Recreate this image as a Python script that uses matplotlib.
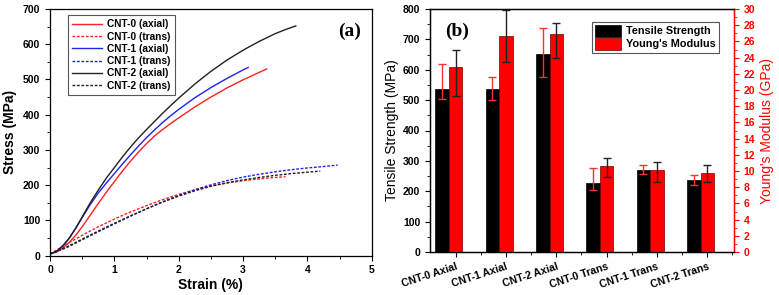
import matplotlib
matplotlib.use("Agg")
import matplotlib.pyplot as plt
import matplotlib.ticker as ticker
import numpy as np

plt.rcParams.update({
    "font.family": ["Liberation Sans", "DejaVu Sans"],
    "font.size": 7.5,
    "axes.linewidth": 0.9,
    "xtick.direction": "out",
    "ytick.direction": "out",
    "xtick.major.size": 3.5,
    "ytick.major.size": 3.5,
    "xtick.minor.size": 2,
    "ytick.minor.size": 2,
})

# ── Panel (a): stress-strain curves ──────────────────────────────────────────
cnt0_ax_strain = [0, 0.1, 0.2, 0.3, 0.4, 0.5, 0.625, 0.75, 0.875, 1.0, 1.125, 1.25,
                  1.375, 1.5, 1.625, 1.75, 1.875, 2.0, 2.25, 2.5, 2.75, 3.0, 3.25, 3.37]
cnt0_ax_stress = [5, 10, 22, 38, 58, 82, 115, 148, 180, 210, 240, 268,
                  294, 318, 340, 358, 375, 391, 422, 450, 476, 499, 520, 530]
cnt1_ax_strain = [0, 0.1, 0.2, 0.3, 0.4, 0.5, 0.625, 0.75, 0.875, 1.0, 1.125, 1.25,
                  1.375, 1.5, 1.625, 1.75, 1.875, 2.0, 2.25, 2.5, 2.75, 3.0, 3.08]
cnt1_ax_stress = [5, 12, 28, 50, 78, 108, 145, 178, 206, 233, 260, 286,
                  311, 335, 357, 378, 397, 415, 448, 477, 503, 527, 534]
cnt2_ax_strain = [0, 0.1, 0.2, 0.3, 0.4, 0.5, 0.625, 0.75, 0.875, 1.0, 1.125, 1.25,
                  1.375, 1.5, 1.625, 1.75, 1.875, 2.0, 2.25, 2.5, 2.75, 3.0, 3.25,
                  3.5, 3.65, 3.82]
cnt2_ax_stress = [5, 12, 28, 50, 78, 110, 150, 186, 220, 250, 280, 308,
                  334, 358, 381, 404, 426, 447, 487, 523, 555, 583, 608,
                  630, 641, 652]

cnt0_tr_strain = [0, 0.25, 0.5, 0.75, 1.0, 1.25, 1.5, 1.75, 2.0, 2.25, 2.5, 2.75,
                  3.0, 3.25, 3.5, 3.66]
cnt0_tr_stress = [5, 32, 58, 82, 104, 124, 142, 159, 174, 187, 198, 206,
                  213, 218, 222, 224]
cnt1_tr_strain = [0, 0.25, 0.5, 0.75, 1.0, 1.25, 1.5, 1.75, 2.0, 2.25, 2.5, 2.75,
                  3.0, 3.25, 3.5, 3.75, 4.0, 4.25, 4.47]
cnt1_tr_stress = [5, 22, 45, 68, 90, 112, 133, 153, 171, 187, 201, 213,
                  223, 231, 238, 244, 249, 253, 257]
cnt2_tr_strain = [0, 0.25, 0.5, 0.75, 1.0, 1.25, 1.5, 1.75, 2.0, 2.25, 2.5, 2.75,
                  3.0, 3.25, 3.5, 3.75, 4.0, 4.2]
cnt2_tr_stress = [5, 24, 47, 70, 92, 113, 133, 152, 169, 184, 197, 207,
                  215, 222, 228, 233, 237, 240]

# ── Panel (b): bar data ─────────────────────────────────────────────────────
samples = ["CNT-0 Axial", "CNT-1 Axial", "CNT-2 Axial",
           "CNT-0 Trans", "CNT-1 Trans", "CNT-2 Trans"]
tensile = [536, 536, 652, 227, 270, 238]
tensile_err_lo = [33, 34, 76, 24, 13, 18]
tensile_err_hi = [82, 39, 87, 48, 16, 16]
modulus = [22.9, 26.7, 26.9, 10.6, 10.1, 9.7]
modulus_err_lo = [3.7, 3.3, 2.9, 1.35, 1.5, 1.0]
modulus_err_hi = [2.0, 3.2, 1.4, 1.0, 1.0, 1.0]

W, H = 779, 295
fig = plt.figure(figsize=(W / 100, H / 100), dpi=100)

# ── Panel (a) ───────────────────────────────────────────────────────────────
ax1 = fig.add_axes([50 / W, 1 - 255.7 / H, 321.7 / W, 246.7 / H])
dash = (0, (2, 1.2))
ax1.plot(cnt0_ax_strain, cnt0_ax_stress, color="#ff2020", lw=1.0, label="CNT-0 (axial)")
ax1.plot(cnt0_tr_strain, cnt0_tr_stress, color="#ff2020", lw=1.0, ls=dash, label="CNT-0 (trans)")
ax1.plot(cnt1_ax_strain, cnt1_ax_stress, color="#2020ee", lw=1.0, label="CNT-1 (axial)")
ax1.plot(cnt1_tr_strain, cnt1_tr_stress, color="#2020ee", lw=1.0, ls=dash, label="CNT-1 (trans)")
ax1.plot(cnt2_ax_strain, cnt2_ax_stress, color="#222222", lw=1.0, label="CNT-2 (axial)")
ax1.plot(cnt2_tr_strain, cnt2_tr_stress, color="#222222", lw=1.0, ls=dash, label="CNT-2 (trans)")

ax1.set_xlim(0, 5)
ax1.set_ylim(0, 700)
ax1.xaxis.set_major_locator(ticker.MultipleLocator(1))
ax1.xaxis.set_minor_locator(ticker.MultipleLocator(0.5))
ax1.yaxis.set_major_locator(ticker.MultipleLocator(100))
ax1.yaxis.set_minor_locator(ticker.MultipleLocator(50))
for lab in ax1.get_xticklabels() + ax1.get_yticklabels():
    lab.set_fontweight("bold")
ax1.set_xlabel("Strain (%)", fontsize=10, fontweight="bold", labelpad=2)
ax1.set_ylabel("Stress (MPa)", fontsize=10, fontweight="bold", labelpad=4)
leg = ax1.legend(loc="upper left", bbox_to_anchor=(0.04, 0.995),
                 prop={"weight": "bold", "size": 7.3}, frameon=True, fancybox=False,
                 edgecolor="#555555", framealpha=1, handlelength=3.0,
                 labelspacing=0.22, borderpad=0.4, handletextpad=0.5)
leg.get_frame().set_linewidth(0.8)
ax1.text(0.93, 0.91, "(a)", transform=ax1.transAxes, ha="center", va="center",
         fontsize=14, fontweight="bold", family=["Liberation Serif", "DejaVu Serif"])

# ── Panel (b) ───────────────────────────────────────────────────────────────
ax2 = fig.add_axes([430 / W, 1 - 252 / H, 304 / W, 243 / H])
ax3 = ax2.twinx()
x = np.arange(len(samples))
bw = 0.27

ax2.bar(x - bw, tensile, width=bw, color="black", edgecolor="black", lw=0.5,
        label="Tensile Strength", zorder=2)
ax2.errorbar(x - bw, tensile, yerr=[tensile_err_lo, tensile_err_hi], fmt="none",
             ecolor="#ff3030", elinewidth=1.0, capsize=3, capthick=1.0, zorder=3)
ax3.bar(x, modulus, width=bw, color="#ff0000", edgecolor="#700000", lw=0.5,
        label="Young's Modulus", zorder=2)
ax3.errorbar(x, modulus, yerr=[modulus_err_lo, modulus_err_hi], fmt="none",
             ecolor="#222222", elinewidth=1.0, capsize=3, capthick=1.0, zorder=3)

ax2.set_xlim(-0.51, 5.53)
ax2.set_ylim(0, 800)
ax3.set_ylim(0, 30)
ax2.set_xticks(x)
ax2.set_xticks(x + 0.5, minor=True)
ax2.set_xticklabels(samples, rotation=18, ha="right", rotation_mode="anchor",
                    fontweight="bold", fontsize=7.6)
ax2.yaxis.set_major_locator(ticker.MultipleLocator(100))
ax2.yaxis.set_minor_locator(ticker.MultipleLocator(50))
for lab in ax2.get_yticklabels():
    lab.set_fontweight("bold")
ax2.set_ylabel("Tensile Strength (MPa)", fontsize=10, labelpad=3)

ax3.yaxis.set_major_locator(ticker.MultipleLocator(2))
ax3.yaxis.set_minor_locator(ticker.MultipleLocator(1))
ax3.spines["right"].set_color("#ff0000")
ax3.tick_params(axis="y", which="both", colors="#ff0000")
for lab in ax3.get_yticklabels():
    lab.set_fontweight("bold")
ax3.set_ylabel("Young's Modulus (GPa)", fontsize=10, color="#ff0000", labelpad=3)

h1, l1 = ax2.get_legend_handles_labels()
h2, l2 = ax3.get_legend_handles_labels()
leg2 = ax3.legend(h1 + h2, l1 + l2, loc="upper right", bbox_to_anchor=(0.97, 0.97),
                  prop={"weight": "bold", "size": 7.8}, frameon=True, fancybox=False,
                  edgecolor="#555555", framealpha=1, handlelength=2.4, handleheight=1.3,
                  labelspacing=0.1, borderpad=0.3, handletextpad=0.5)
leg2.get_frame().set_linewidth(0.8)
ax2.text(0.09, 0.91, "(b)", transform=ax2.transAxes, ha="center", va="center",
         fontsize=14, fontweight="bold", family=["Liberation Serif", "DejaVu Serif"])

fig.savefig("out.png", dpi=100)
